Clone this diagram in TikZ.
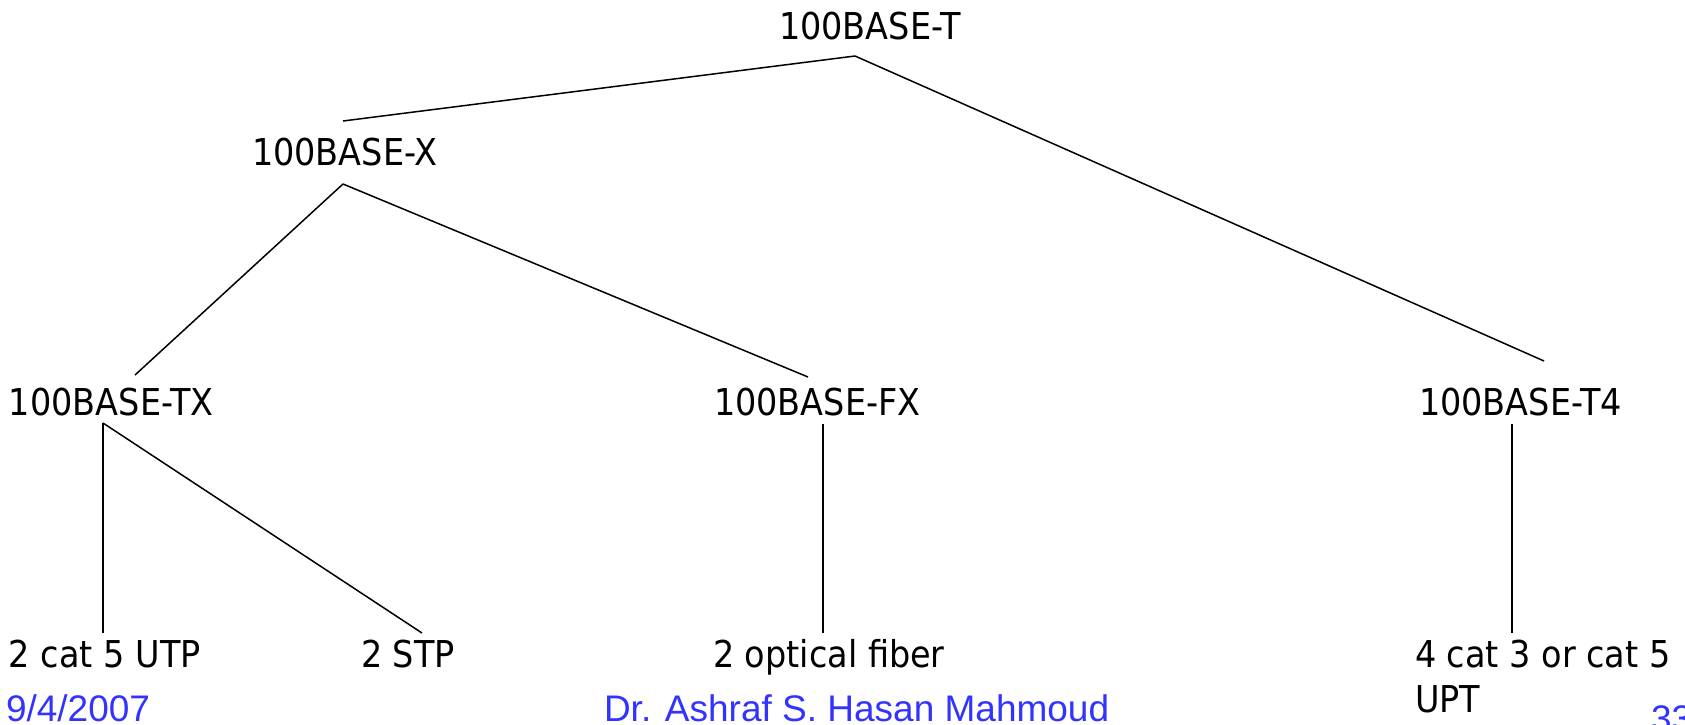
\documentclass[tikz,border=0pt]{standalone}
\usepackage{fontspec}
\setmainfont{DejaVu Sans}[FakeStretch=0.905]
\newfontfamily\footfont{Liberation Sans}
\definecolor{footblue}{RGB}{51,51,255}
\tikzset{
  lbl/.style={anchor=base west, inner sep=0pt, outer sep=0pt, align=left,
    font=\fontsize{37}{45}\selectfont},
  foot/.style={anchor=base west, inner sep=0pt, outer sep=0pt, text=footblue,
    font=\footfont\fontsize{37}{43}\selectfont},
  link/.style={draw=black, line width=1.5pt}
}
\begin{document}
\begin{tikzpicture}[x=1pt, y=-1pt]
  \clip (0,0) rectangle (1685,724);
  \fill[white] (0,0) rectangle (1685,724);

  % tree labels
  \node[lbl] (T)   at (779,39)   {100BASE-T};
  \node[lbl] (X)   at (252,165)  {100BASE-X};
  \node[lbl] (TX)  at (9,415)    {100BASE-TX};
  \node[lbl] (FX)  at (714,415)  {100BASE-FX};
  \node[lbl] (T4)  at (1419,415) {100BASE-T4};
  \node[lbl] (UTP) at (9,667)    {2 cat 5 UTP};
  \node[lbl] (STP) at (361,667)  {2 STP};
  \node[lbl] (OF)  at (713,667)  {2 optical fiber};
  % two-line label: base anchor sits on the last line
  \node[lbl] (C35) at (1415,712) {4 cat 3 or cat 5\\UPT};

  % connector end points
  \coordinate (Tj)   at (855,56);
  \coordinate (Xin)  at (343,121);
  \coordinate (T4in) at (1544,361);
  \coordinate (Xj)   at (343,184);
  \coordinate (TXin) at (135,375);
  \coordinate (FXin) at (808,377);
  \coordinate (TXj)  at (103,423);
  \coordinate (UTPin) at (103,633);
  \coordinate (STPin) at (422,633);
  \coordinate (FXj)  at (823,424);
  \coordinate (OFin) at (823,633);
  \coordinate (T4j)  at (1512,424);
  \coordinate (C35in) at (1512,633);

  % connectors
  \draw[link] (Tj) -- (Xin);
  \draw[link] (Tj) -- (T4in);
  \draw[link] (Xj) -- (TXin);
  \draw[link] (Xj) -- (FXin);
  \draw[link] (TXj) -- (UTPin);
  \draw[link] (TXj) -- (STPin);
  \draw[link] (FXj) -- (OFin);
  \draw[link] (T4j) -- (C35in);

  % footer
  \node[foot] (date)   at (6,721)    {9/4/2007};
  \node[foot] (author) at (604,721)  {Dr. Ashraf S. Hasan Mahmoud};
  \node[foot] (page)   at (1651,731) {33};
\end{tikzpicture}
\end{document}
